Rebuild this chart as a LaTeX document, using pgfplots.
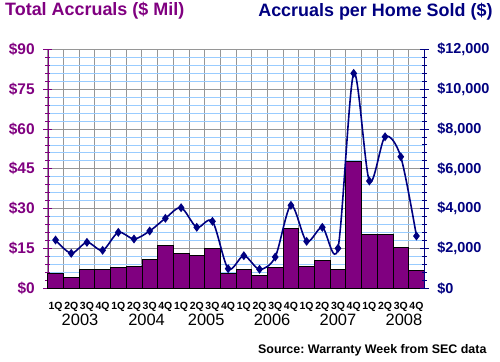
\documentclass[border=0pt]{standalone}
\usepackage{fontspec}
\setmainfont{Liberation Sans}
\usepackage{pgfplots}
\pgfplotsset{compat=1.18}
\definecolor{barpurple}{HTML}{800080}
\definecolor{navy}{HTML}{000080}
\definecolor{gridgray}{HTML}{969696}
\definecolor{gridblue}{HTML}{99CCFF}
\frenchspacing
\begin{document}
\begin{tikzpicture}
\useasboundingbox (-47.7bp,-73.7bp) rectangle (452.3bp,288.3bp);
\begin{axis}[
  at={(0,0)}, anchor=south west,
  scale only axis, width=376.6bp, height=239bp,
  xmin=-0.5, xmax=23.5, ymin=0, ymax=90,
  axis x line*=bottom, axis y line*=left,
  x axis line style={black,-}, y axis line style={barpurple,-},
  xtick={0,...,23},
  xticklabels={1Q,2Q,3Q,4Q,1Q,2Q,3Q,4Q,1Q,2Q,3Q,4Q,1Q,2Q,3Q,4Q,1Q,2Q,3Q,4Q,1Q,2Q,3Q,4Q},
  xticklabel style={font=\fontsize{10.5}{11}\selectfont\bfseries, black, anchor=base, yshift=-17bp, inner sep=0pt},
  x tick style={draw=none},
  minor xtick={-0.5,0.5,...,23.5},
  xminorgrids=true,
  minor x grid style={gridgray, line width=0.8bp},
  ytick={0,15,...,90},
  minor ytick={3,6,9,12,18,21,24,27,33,36,39,42,48,51,54,57,63,66,69,72,78,81,84,87},
  ymajorgrids=true, yminorgrids=true,
  major y grid style={gridgray, line width=0.8bp},
  minor y grid style={gridblue, line width=0.8bp},
  yticklabel={\$\pgfmathprintnumber[assume math mode=true]{\tick}},
  yticklabel style={font=\fontsize{15.5}{16}\selectfont\bfseries, text=barpurple, xshift=-5bp},
  y tick style={barpurple, line width=0.8bp},
  major tick length=9bp,
  minor tick length=4.5bp,
  tick align=center,
  every minor tick/.append style={black},
  clip=false,
]
\addplot[ybar, bar width=1, bar shift=0pt, fill=barpurple, draw=black, line width=0.7bp]
coordinates {
(0,5.6) (1,4.1) (2,7.1) (3,7.1) (4,7.9) (5,8.3) (6,10.9) (7,16.2)
(8,13.2) (9,12.4) (10,15.0) (11,5.6) (12,7.1) (13,4.9) (14,7.9) (15,22.6)
(16,8.3) (17,10.5) (18,7.1) (19,47.9) (20,20.4) (21,20.4) (22,15.4) (23,6.8)
};
\node[font=\fontsize{16.5}{18}\selectfont, anchor=base, inner sep=0pt] at (axis cs:1.56,0) [yshift=-36.7bp] {2003};
\node[font=\fontsize{16.5}{18}\selectfont, anchor=base, inner sep=0pt] at (axis cs:5.8,0) [yshift=-36.7bp] {2004};
\node[font=\fontsize{16.5}{18}\selectfont, anchor=base, inner sep=0pt] at (axis cs:9.6,0) [yshift=-36.7bp] {2005};
\node[font=\fontsize{16.5}{18}\selectfont, anchor=base, inner sep=0pt] at (axis cs:13.8,0) [yshift=-36.7bp] {2006};
\node[font=\fontsize{16.5}{18}\selectfont, anchor=base, inner sep=0pt] at (axis cs:18.0,0) [yshift=-36.7bp] {2007};
\node[font=\fontsize{16.5}{18}\selectfont, anchor=base, inner sep=0pt] at (axis cs:22.2,0) [yshift=-36.7bp] {2008};
\end{axis}
\begin{axis}[
  at={(0,0)}, anchor=south west,
  scale only axis, width=376.6bp, height=239bp,
  xmin=-0.5, xmax=23.5, ymin=0, ymax=12000,
  axis x line=none, axis y line*=right,
  y axis line style={navy, line width=0.8bp, -},
  ytick={0,2000,...,12000},
  minor y tick num=4,
  scaled y ticks=false,
  yticklabel={\$\pgfmathprintnumber[assume math mode=true, 1000 sep={,}]{\tick}},
  yticklabel style={font=\fontsize{14.5}{16}\selectfont\bfseries, text=navy, xshift=5bp},
  y tick style={navy, line width=0.8bp},
  major tick length=9bp,
  minor tick length=4.5bp,
  tick align=center,
  clip=false,
]
\addplot[smooth, navy, line width=1.6bp, mark=diamond*, mark size=3.2bp, mark options={fill=navy, draw=navy}]
coordinates {
(0,2425) (1,1757) (2,2309) (3,1908) (4,2811) (5,2475) (6,2877) (7,3514)
(8,4047) (9,3062) (10,3363) (11,984) (12,1637) (13,954) (14,1571) (15,4167)
(16,2359) (17,3062) (18,2008) (19,10793) (20,5386) (21,7610) (22,6606) (23,2625)
};
\end{axis}
\node[anchor=base west, inner sep=0pt, font=\fontsize{18}{20}\selectfont\bfseries, text=barpurple] at (-42.7bp,272.3bp) {Total Accruals (\$ Mil)};
\node[anchor=base east, inner sep=0pt, font=\fontsize{18}{20}\selectfont\bfseries, text=navy] at (445bp,271.6bp) {Accruals per Home Sold (\$)};
\node[anchor=base east, inner sep=0pt, font=\fontsize{12.5}{14}\selectfont\bfseries, text=black] at (439bp,-65bp) {Source: Warranty Week from SEC data};
\end{tikzpicture}
\end{document}
